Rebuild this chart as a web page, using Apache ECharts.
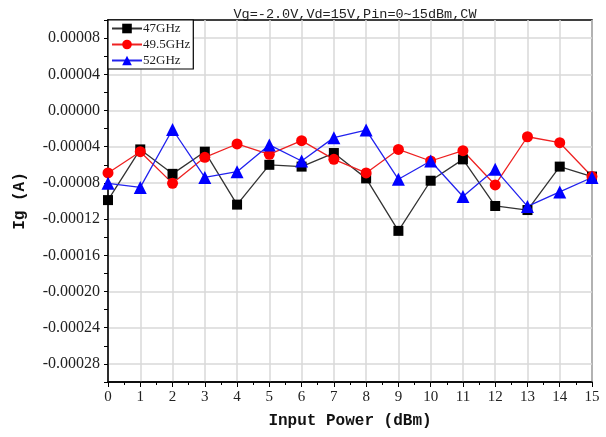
<!DOCTYPE html>
<html>
<head>
<meta charset="utf-8">
<script src="https://cdn.jsdelivr.net/npm/echarts@6/dist/echarts.min.js"></script>
<style>
  html, body { margin: 0; padding: 0; background: #fff; }
  #main { width: 606px; height: 437px; }
</style>
</head>
<body>
<div id="main"></div>
<script>
// input power (dBm)
const pin = [0, 1, 2, 3, 4, 5, 6, 7, 8, 9, 10, 11, 12, 13, 14, 15];

// gate current Ig (A)
const ig47 = [-0.000099, -0.000043, -0.000070, -0.0000455, -0.000104, -0.000060, -0.000062, -0.000047,
  -0.000075, -0.000133, -0.0000776, -0.000054, -0.0001055, -0.000110, -0.000062, -0.000073];
const ig495 = [-0.000069, -0.0000455, -0.0000805, -0.0000517, -0.000037, -0.0000484, -0.0000333, -0.000054,
  -0.000069, -0.000043, -0.0000558, -0.0000444, -0.0000823, -0.000029, -0.0000356, -0.000073];
const ig52 = [-0.0000805, -0.000085, -0.000021, -0.000074, -0.0000676, -0.000038, -0.0000558, -0.000030,
  -0.0000216, -0.000076, -0.0000558, -0.000095, -0.000065, -0.000106, -0.000090, -0.000074];

const seriesNames = ['47GHz', '49.5GHz', '52GHz'];

function pairs(ys) {
  return pin.map((x, i) => [x, ys[i]]);
}

let chart = echarts.init(document.getElementById('main'));

let option = {
  animation: false,
  title: {
    text: 'Vg=-2.0V,Vd=15V,Pin=0~15dBm,CW',
    left: 350,
    textAlign: 'center',
    top: 2,
    textStyle: { fontFamily: 'Liberation Mono', fontSize: 13.5, fontWeight: 'normal', color: '#222' }
  },
  legend: {
    orient: 'vertical',
    left: 108,
    top: 20,
    padding: [2, 3, 2, 3],
    itemGap: 3,
    itemWidth: 30,
    itemHeight: 12,
    borderColor: '#000',
    borderWidth: 1.2,
    backgroundColor: '#fff',
    data: seriesNames,
    textStyle: { fontFamily: 'Liberation Serif', fontSize: 13, color: '#222', padding: [0, 0, 0, -4] }
  },
  grid: {
    left: 108,
    right: 14,
    top: 20,
    bottom: 55,
    show: true,
    borderColor: '#000',
    borderWidth: 1.5
  },
  xAxis: {
    type: 'value',
    min: 0,
    max: 15,
    interval: 1,
    name: 'Input Power (dBm)',
    nameLocation: 'middle',
    nameGap: 31,
    nameTextStyle: { fontFamily: 'Liberation Mono', fontSize: 16, fontWeight: 'bold', color: '#111' },
    axisLine: { onZero: false, lineStyle: { color: '#000', width: 1.5 } },
    axisTick: { length: 5, lineStyle: { color: '#000' } },
    minorTick: { show: true, splitNumber: 2, length: 3, lineStyle: { color: '#000' } },
    axisLabel: { fontFamily: 'Liberation Serif', fontSize: 15, color: '#222', margin: 8 },
    splitLine: { lineStyle: { color: '#d9d9d9', width: 1.5 } }
  },
  yAxis: {
    type: 'value',
    min: -0.0003,
    max: 0.0001,
    interval: 0.00002,
    name: 'Ig (A)',
    nameLocation: 'middle',
    nameGap: 80,
    nameTextStyle: { fontFamily: 'Liberation Mono', fontSize: 16, fontWeight: 'bold', color: '#111' },
    axisLine: { onZero: false, lineStyle: { color: '#000', width: 1.5 } },
    axisTick: { length: 4, lineStyle: { color: '#000' } },
    axisLabel: {
      fontFamily: 'Liberation Serif',
      fontSize: 16,
      color: '#222',
      margin: 8,
      formatter: function (v) {
        let k = Math.round(v / 0.00002);
        if (k % 2 !== 0) return '';
        return (k * 0.00002).toFixed(5);
      }
    },
    splitLine: { lineStyle: { color: ['rgba(0,0,0,0)', '#d9d9d9'], width: 1.5 } }
  },
  series: [
    {
      name: seriesNames[0],
      type: 'line',
      data: pairs(ig47),
      symbol: 'rect',
      symbolSize: 10,
      color: '#000',
      lineStyle: { color: '#333', width: 1.3 }
    },
    {
      name: seriesNames[1],
      type: 'line',
      data: pairs(ig495),
      symbol: 'circle',
      symbolSize: 11,
      color: '#ff0000',
      lineStyle: { color: '#ee2222', width: 1.3 }
    },
    {
      name: seriesNames[2],
      type: 'line',
      data: pairs(ig52),
      symbol: 'triangle',
      symbolSize: 13,
      color: '#0000ff',
      lineStyle: { color: '#2222ee', width: 1.3 }
    }
  ]
};

chart.setOption(option);
</script>
</body>
</html>
